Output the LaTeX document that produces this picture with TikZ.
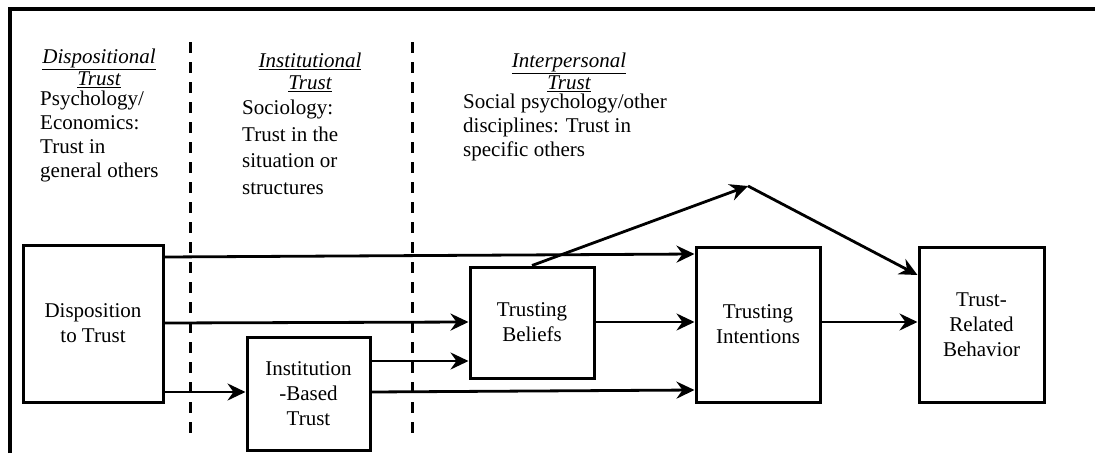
\documentclass[tikz,border=0pt]{standalone}
\usepackage{fontspec}
\setmainfont{Liberation Serif}
\usetikzlibrary{arrows.meta}
\usetikzlibrary{positioning}

\begin{document}
\begin{tikzpicture}[x=1pt,y=-1pt,>={Stealth[length=18pt,width=17pt,inset=6pt]},
  box/.style={draw,line width=3pt,align=center,inner sep=0pt,font=\fontsize{21}{25}\selectfont},
  link/.style={->,line width=2.8pt},
  divider/.style={line width=3pt,dash pattern=on 11pt off 9pt},
  head/.style={align=center,inner sep=0pt,text depth=0pt,font=\fontsize{21}{22}\selectfont\itshape},
  field/.style={align=left,inner sep=0pt,anchor=north west,font=\fontsize{21}{24}\selectfont}]

\useasboundingbox (0,0) rectangle (1095,453);

\draw[line width=3.5pt] (10,453) -- (10,9) -- (1095,9);

\draw[divider] (190,42) -- (190,440);
\draw[divider] (412,42) -- (412,440);

\node[head,anchor=north] (disphead) at (99,49) {\underline{Dispositional}\\\underline{Trust}};
\node[field] (dispfield) at (40,91) {Psychology/\\Economics:\\Trust in\\general others};

\node[head,anchor=north] (insthead) at (310,53) {\underline{Institutional}\\\underline{Trust}};
\node[field,font=\fontsize{21}{26.5}\selectfont] (instfield) at (242,100) {Sociology:\\Trust in the\\situation or\\structures};

\node[head,anchor=north] (interhead) at (569,53) {\underline{Interpersonal}\\\underline{Trust}};
\node[field] (interfield) at (463,94) {Social psychology/other\\disciplines: Trust in\\specific others};

\node[box,minimum width=140pt,minimum height=157pt] (disp) at (93,323.5) {Disposition\\to Trust};
\node[box,minimum width=123pt,minimum height=113pt] (inst) at (308.5,393.5) {Institution\\-Based\\Trust};
\node[box,minimum width=124pt,minimum height=111pt] (beliefs) at (532,322.5) {Trusting\\Beliefs};
\node[box,minimum width=124pt,minimum height=155pt] (intent) at (758,324.5) {Trusting\\Intentions};
\node[box,minimum width=125pt,minimum height=155pt] (behav) at (981.5,324.5) {Trust-\\Related\\Behavior};

\coordinate (apex) at (748,186);

\draw[link] (disp.east |- 0,257) -- (intent.west |- 0,254);
\draw[link] (disp.east |- 0,323) -- (beliefs.west |- 0,322);
\draw[link] (disp.east |- 0,392) -- (inst.west |- 0,392);
\draw[link] (inst.east |- 0,361) -- (beliefs.west |- 0,361);
\draw[link] (inst.east |- 0,392) -- (intent.west |- 0,390);
\draw[link] (beliefs.east |- 0,322) -- (intent.west |- 0,322);
\draw[link] (beliefs.north) -- (apex);
\draw[link] (apex) -- (behav.west |- 0,275);
\draw[link] (intent.east |- 0,322) -- (behav.west |- 0,322);
\end{tikzpicture}
\end{document}
